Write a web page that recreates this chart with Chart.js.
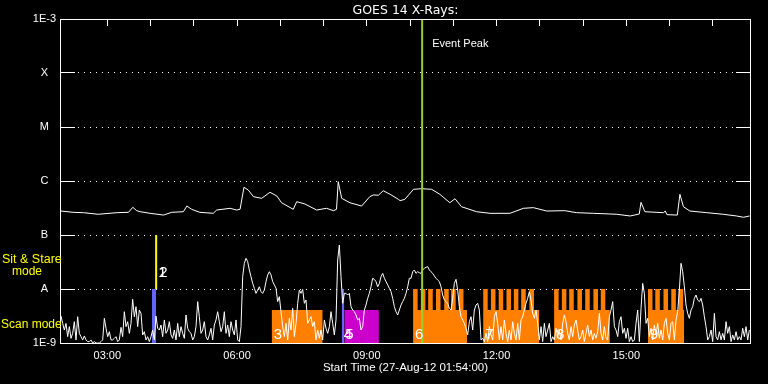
<!DOCTYPE html>
<html><head><meta charset="utf-8">
<script src="https://cdn.jsdelivr.net/npm/chart.js@4/dist/chart.umd.min.js"></script>
<style>html,body{margin:0;padding:0;background:#000;}canvas{display:block;}</style>
</head><body>
<canvas id="c" width="768" height="384"></canvas>
<script>
// ---------- texts & axes ----------
const chartTitle = 'GOES 14 X-Rays:';
const xAxisTitle = 'Start Time (27-Aug-12 01:54:00)';
const xRangeHours = [1.93, 17.86];
const xTickHours = [3, 6, 9, 12, 15];
const xTickLabels = ['03:00', '06:00', '09:00', '12:00', '15:00'];
const hourMarks = [3, 4, 5, 6, 7, 8, 9, 10, 11, 12, 13, 14, 15, 16, 17];
const yTickValues = [1e-9, 1e-8, 1e-7, 1e-6, 1e-5, 1e-4, 1e-3];
const yTickLabels = ['1E-9', 'A', 'B', 'C', 'M', 'X', '1E-3'];

// ---------- GOES long channel (1-8 A), hours UT / flux x1e-7 W m-2 ----------
const longHours = [1.93,2.21,2.45,2.79,3.22,3.49,3.59,3.68,3.76,3.99,4.30,4.49,4.76,4.84,4.95,5.14,5.45,5.53,5.84,5.99,6.07,6.16,6.26,6.38,6.57,6.76,6.92,7.03,7.30,7.38,7.57,7.84,8.07,8.23,8.30,8.34,8.42,8.61,8.88,9.07,9.15,9.27,9.38,9.54,9.73,9.77,9.88,10.08,10.27,10.50,10.69,10.92,11.04,11.19,11.54,11.85,12.31,12.62,12.85,13.16,13.58,13.85,14.24,14.78,15.09,15.30,15.34,15.43,15.86,15.90,15.94,16.18,16.24,16.32,16.47,16.86,17.24,17.55,17.71,17.85];
const longFluxE7 = [2.78,2.63,2.59,2.42,2.59,2.63,3.26,2.82,2.70,2.52,2.34,2.63,2.70,3.44,2.99,2.63,2.52,2.90,3.12,2.90,2.99,7.64,6.81,5.12,4.78,6.18,5.28,3.96,2.99,4.14,3.75,2.90,3.12,2.82,2.99,9.71,4.78,3.96,3.44,5.12,5.51,5.45,6.61,5.67,4.58,4.32,4.58,7.02,7.20,7.02,5.67,3.96,4.70,3.34,2.70,2.52,2.52,3.12,3.21,2.78,2.82,2.59,2.52,2.42,2.25,2.45,4.03,2.70,2.59,2.78,2.38,2.34,5.67,3.34,2.78,2.59,2.42,2.25,2.13,2.25];

// ---------- GOES short channel (0.5-4 A), regular cadence, flux x1e-9 W m-2 ----------
const shortStartHour = 1.93;
const shortStepHour = 0.038536;
const shortFluxE9 = [
3.16,2.31,1.74,2.31,1.31,2.01,1.22,1.51,2.48,1.14,
3.07,1.51,1.31,1.14,1.35,1.14,1.06,1.06,1.14,1.00,
1.06,1.00,1.00,1.00,1.06,1.14,2.86,1.87,1.31,1.62,
1.14,1.14,1.22,1.31,1.06,1.14,1.95,1.31,3.80,2.01,
2.48,1.51,2.31,6.44,3.07,4.71,2.01,4.08,3.54,1.41,
1.62,1.14,1.31,1.06,1.31,1.74,1.14,3.16,1.87,1.74,
2.15,1.31,2.67,1.51,1.74,2.48,1.41,1.22,1.74,1.14,
2.31,1.31,2.01,1.51,1.22,3.30,1.87,1.62,1.51,1.14,
1.31,2.01,5.83,3.07,1.51,1.74,2.48,1.31,1.14,1.41,
1.87,1.14,2.15,2.67,3.80,2.48,1.62,2.01,3.80,1.51,
2.15,1.31,2.48,1.74,1.41,
2.67,1.14,1.06,2.01,16.9,29.9,37.0,32.1,22.5,16.9,
12.7,10.3,8.31,9.58,11.0,8.93,8.31,9.58,13.7,18.2,
20.9,18.2,13.7,11.9,10.3,5.83,7.21,3.80,2.01,1.31,
2.31,1.14,2.86,1.74,4.39,1.31,2.31,5.43,9.58,8.31,
9.80,5.43,6.26,2.31,2.67,3.07,2.01,2.48,1.14,1.74,
1.22,1.74,1.14,2.67,1.87,1.51,2.01,3.80,2.31,1.41,
2.67,34.4,65.3,16.9,5.43,8.31,8.31,7.74,8.31,4.71,
4.08,3.80,3.30,2.67,2.86,1.74,2.01,4.08,5.05,6.72,
8.31,11.0,15.8,15.1,13.7,11.0,12.7,16.9,19.5,15.8,
13.7,11.9,10.3,8.93,6.72,4.71,3.80,3.30,4.08,5.05,
5.83,6.72,8.31,11.0,15.8,
15.8,20.9,22.5,19.5,20.9,20.0,19.5,22.5,24.1,25.2,
25.9,22.5,20.9,19.5,17.4,15.8,14.7,13.7,11.0,7.74,
6.26,5.83,5.43,4.39,4.08,6.72,12.7,15.1,9.58,4.71,
3.07,2.67,2.31,1.87,1.41,2.48,3.07,1.74,4.08,5.05,
5.43,4.08,1.14,1.22,1.06,1.51,1.06,2.01,1.41,1.14,
3.07,3.80,2.31,1.14,2.01,1.14,2.67,1.51,1.06,1.74,
1.14,2.48,1.51,1.14,2.31,1.14,2.67,3.07,4.08,5.43,
6.72,8.93,6.26,3.54,2.86,4.08,2.31,1.14,2.01,1.06,
2.31,1.31,1.74,2.31,1.06,1.31,1.14,1.87,1.31,1.74,
1.14,2.31,3.30,2.48,1.51,1.14,2.01,1.31,2.15,2.67,
1.74,1.14,
1.31,1.74,1.06,1.51,2.15,1.31,1.74,1.14,1.51,1.22,
1.62,3.54,1.51,1.14,2.01,1.22,1.14,3.07,4.08,5.83,
2.01,1.74,1.31,2.48,3.07,1.51,1.87,1.22,1.87,1.06,
1.31,1.06,1.14,2.31,4.08,1.06,4.39,12.7,8.31,2.31,
2.86,1.31,1.87,1.14,2.15,1.41,2.31,1.22,1.74,1.14,
2.31,2.86,1.51,1.14,2.31,2.48,1.14,2.67,3.80,9.58,
29.9,20.9,11.0,5.05,3.54,2.86,4.08,4.71,6.72,7.74,
6.26,5.83,6.72,5.05,3.07,2.01,1.14,1.31,1.74,1.06,
3.54,1.31,1.14,1.62,1.14,1.51,1.14,2.48,1.51,2.01,
1.06,1.41,1.14,1.62,1.14,1.31,1.14,1.87,1.31,2.01,
1.14,1.74];

// ---------- observation blocks (hours UT) ----------
const scanStart = [6.80, 10.07, 11.69, 13.33, 15.50];
const scanEnd   = [7.98, 11.32, 12.99, 14.62, 16.34];
const scanLabels = ['3', '6', '7', '8', '9'];
const scanTeeth = [
  [],
  [10.07, 10.25, 10.42, 10.60, 10.79, 10.95, 11.13],
  [11.69, 11.87, 12.05, 12.23, 12.40, 12.57, 12.76],
  [13.33, 13.51, 13.68, 13.87, 14.05, 14.24, 14.41],
  [15.50, 15.67, 15.86, 16.04, 16.21]
];
const toothHours = 0.105;
const scanLevel = 4.1e-9;
const toothLevel = 1e-8;
const contextStart = [4.03, 8.42];
const contextEnd = [4.13, 8.48];
const contextLabels = ['1', '4'];
const contextLevel = 1e-8;
const otherStart = [8.48];
const otherEnd = [9.28];
const otherLabels = ['5'];
const sitStareHour = 4.13;
const sitStareRange = [1e-8, 1e-7];
const sitStareLabel = '2';
const eventPeakHour = 10.28;
const eventPeakText = 'Event Peak';

// ---------- build datasets ----------
function combPoints(start, end, teeth, base, top, w) {
  const pts = [{x: start, y: base}];
  teeth.forEach(t => { pts.push({x: t, y: base}, {x: t, y: top}, {x: t + w, y: top}, {x: t + w, y: base}); });
  pts.push({x: end, y: base});
  return pts;
}
function block(points, color) {
  return {data: points, borderColor: 'rgba(0,0,0,0)', borderWidth: 0, backgroundColor: color,
          fill: 'start', pointRadius: 0, tension: 0, order: 5};
}
const datasets = [];
datasets.push({data: [{x: eventPeakHour, y: 1e-9}, {x: eventPeakHour, y: 1e-3}], borderColor: '#9acd32',
  borderWidth: 2, pointRadius: 0, fill: false, order: -1});
datasets.push({data: longHours.map((h, i) => ({x: h, y: longFluxE7[i] * 1e-7})), borderColor: '#ffffff',
  borderWidth: 1, pointRadius: 0, tension: 0, fill: false, order: 0});
datasets.push({data: shortFluxE9.map((v, i) => ({x: shortStartHour + i * shortStepHour, y: v * 1e-9})),
  borderColor: '#ffffff', borderWidth: 1, pointRadius: 0, tension: 0, fill: false, order: 0});
datasets.push({data: [{x: sitStareHour, y: sitStareRange[0]}, {x: sitStareHour, y: sitStareRange[1]}],
  borderColor: '#ffff00', borderWidth: 2, pointRadius: 0, fill: false, order: 3});
scanStart.forEach((s, i) => datasets.push(block(combPoints(s, scanEnd[i], scanTeeth[i], scanLevel, toothLevel, toothHours), '#ff8000')));
contextStart.forEach((s, i) => datasets.push(block(combPoints(s, contextEnd[i], [], contextLevel, contextLevel, 0), '#6464ff')));
otherStart.forEach((s, i) => datasets.push(block(combPoints(s, otherEnd[i], [], scanLevel, scanLevel, 0), '#cc00cc')));

// ---------- decorations ----------
const decor = {
  id: 'decor',
  beforeDatasetsDraw(chart) {
    const {ctx, chartArea: a, scales: {y}} = chart;
    ctx.save();
    ctx.strokeStyle = '#ffffff';
    ctx.lineWidth = 1;
    yTickValues.forEach((v, i) => {
      if (i === 0 || i === yTickValues.length - 1) return;
      const py = Math.floor(y.getPixelForValue(v)) + 0.5;
      ctx.setLineDash([]);
      ctx.beginPath();
      ctx.moveTo(a.left, py); ctx.lineTo(a.left + 14, py);
      ctx.moveTo(a.right - 14, py); ctx.lineTo(a.right, py);
      ctx.stroke();
      ctx.setLineDash([1, 5]);
      ctx.beginPath();
      ctx.moveTo(a.left + 17, py); ctx.lineTo(a.right - 15, py);
      ctx.stroke();
    });
    ctx.restore();
  },
  afterDatasetsDraw(chart) {
    const {ctx, chartArea: a, scales: {x, y}} = chart;
    ctx.save();
    ctx.strokeStyle = '#ffffff';
    ctx.lineWidth = 1;
    ctx.setLineDash([]);
    ctx.strokeRect(a.left - 0.5, a.top + 0.5, a.right - a.left + 1, a.bottom - a.top);
    ctx.beginPath();
    hourMarks.forEach(h => {
      const px = Math.floor(x.getPixelForValue(h)) + 0.5;
      ctx.moveTo(px, a.top); ctx.lineTo(px, a.top + 7);
    });
    ctx.stroke();

    const bottom = y.getPixelForValue(1e-9);
    ctx.fillStyle = '#ffffff';
    ctx.font = '15px "Liberation Sans Narrow", "Liberation Sans", sans-serif';
    ctx.textAlign = 'left';
    ctx.textBaseline = 'alphabetic';
    scanStart.forEach((s, i) => ctx.fillText(scanLabels[i], x.getPixelForValue(s) + 2, bottom - 4));
    otherStart.forEach((s, i) => ctx.fillText(otherLabels[i], x.getPixelForValue(s) + 1, bottom - 4));
    ctx.fillText(contextLabels[1], x.getPixelForValue(contextStart[1]) + 2, bottom - 4);
    const ssx = x.getPixelForValue(sitStareHour) + 2;
    const ssy = y.getPixelForValue(sitStareRange[0]) - 12;
    ctx.fillText(contextLabels[0], ssx, ssy);
    ctx.fillText(sitStareLabel, ssx + 1, ssy);

    ctx.font = '11px "Liberation Sans", sans-serif';
    ctx.fillText(eventPeakText, x.getPixelForValue(eventPeakHour) + 10, a.top + 28);

    ctx.font = '12.5px "DejaVu Sans", sans-serif';
    ctx.textAlign = 'center';
    ctx.fillText(chartTitle, (a.left + a.right) / 2, 14);

    ctx.fillStyle = '#ffff00';
    ctx.textAlign = 'left';
    const yA = y.getPixelForValue(1e-8);
    ctx.font = '12.5px "Liberation Sans", sans-serif';
    ctx.fillText('Sit & Stare', 2, yA - 26);
    ctx.font = '12px "Liberation Sans", sans-serif';
    ctx.fillText('mode', 12, yA - 14);
    ctx.fillText('Scan mode', 1, bottom - 15);
    ctx.restore();
  }
};

new Chart(document.getElementById('c'), {
  type: 'line',
  data: {datasets},
  options: {
    responsive: false,
    animation: false,
    devicePixelRatio: 1,
    layout: {padding: {top: 19, right: 18, left: 0, bottom: 0}},
    plugins: {legend: {display: false}, tooltip: {enabled: false}, title: {display: false}},
    scales: {
      x: {
        type: 'linear', position: 'bottom', min: xRangeHours[0], max: xRangeHours[1],
        afterFit: s => { s.height = 41; },
        afterBuildTicks: s => { s.ticks = xTickHours.map(v => ({value: v})); },
        ticks: {color: '#ffffff', font: {family: 'Liberation Sans', size: 11}, padding: 6,
                maxRotation: 0, autoSkip: false, callback: (v, i) => xTickLabels[i]},
        grid: {display: false, drawTicks: false},
        border: {display: false},
        title: {display: true, text: xAxisTitle, color: '#ffffff',
                font: {family: 'Liberation Sans', size: 11.5}, padding: {top: 0, bottom: 9}}
      },
      y: {
        type: 'logarithmic', min: 1e-9, max: 1e-3,
        afterFit: s => { s.width = 61; },
        afterBuildTicks: s => { s.ticks = yTickValues.map(v => ({value: v})); },
        ticks: {color: '#ffffff', font: {family: 'Liberation Sans', size: 11}, padding: 5,
                crossAlign: 'center', autoSkip: false, callback: (v, i) => yTickLabels[i]},
        grid: {display: false, drawTicks: false},
        border: {display: false}
      }
    }
  },
  plugins: [decor]
});
</script>
</body></html>
